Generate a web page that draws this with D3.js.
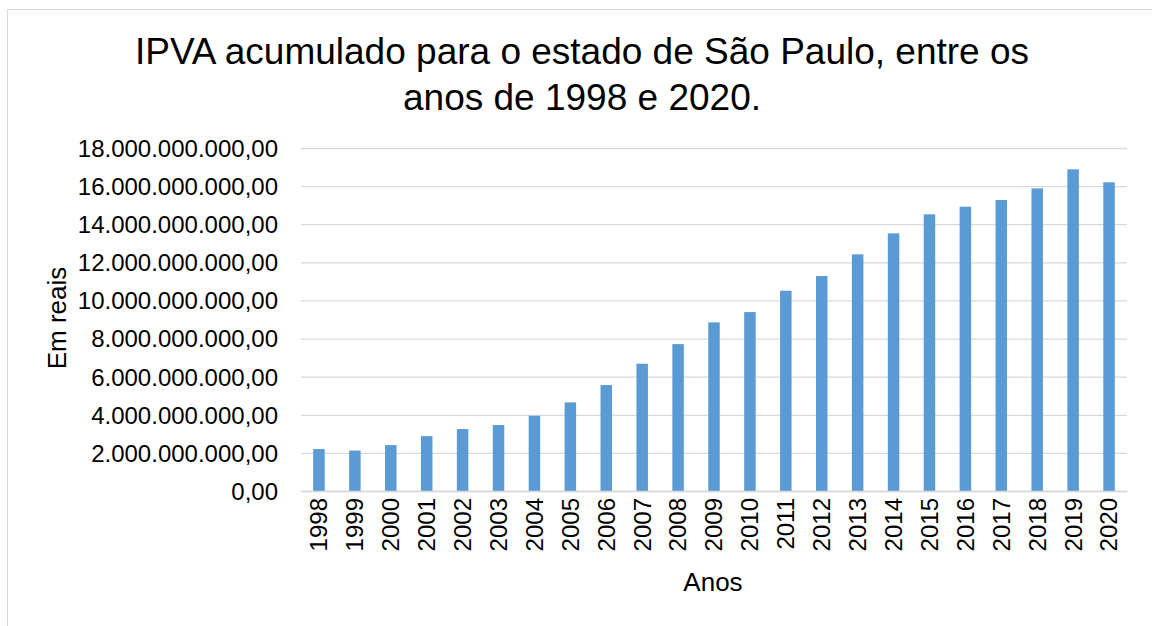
<!DOCTYPE html>
<html>
<head>
<meta charset="utf-8">
<script src="https://cdn.jsdelivr.net/npm/d3@7"></script>
<style>
  body { margin: 0; background: #fff; }
  svg text { font-family: "Liberation Sans", Arial, sans-serif; fill: #000; }
</style>
</head>
<body>
<div id="chart"></div>
<script>
// IPVA acumulado - Sao Paulo (em reais)
var anos = ["1998", "1999", "2000", "2001", "2002", "2003", "2004", "2005", "2006", "2007", "2008", "2009",
  "2010", "2011", "2012", "2013", "2014", "2015", "2016", "2017", "2018", "2019", "2020"];
var valores = [2200000000, 2120000000, 2410000000, 2880000000, 3250000000, 3460000000, 3950000000,
  4650000000, 5560000000, 6680000000, 7710000000, 8850000000, 9390000000, 10510000000, 11280000000,
  12420000000, 13520000000, 14520000000, 14920000000, 15270000000, 15880000000, 16880000000, 16200000000];
var yTicks = [0, 2e9, 4e9, 6e9, 8e9, 10e9, 12e9, 14e9, 16e9, 18e9];
var titulo = ["IPVA acumulado para o estado de São Paulo, entre os", "anos de 1998 e 2020."];

var width = 1152;
var height = 626;
var plotLeft = 301, plotRight = 1127, plotTop = 148, plotBottom = 491;

var svg = d3.select("#chart").
  append("svg").
  attr("width", width).
  attr("height", height);

// borda da area do grafico
svg.append("rect").
  attr("x", 7.5).
  attr("y", 9.5).
  attr("width", 1160).
  attr("height", 700).
  attr("fill", "none").
  attr("stroke", "#d9d9d9").
  attr("stroke-width", 1);

var br = d3.formatLocale({decimal: ",", thousands: ".", grouping: [3], currency: ["R$", ""]});
var fmt = br.format(",.2f");

var xScale = d3.scaleBand().
  domain(anos).
  range([plotLeft, plotRight]).
  paddingInner(0.68).
  paddingOuter(0.34);

var yScale = d3.scaleLinear().
  domain([0, 18e9]).
  range([plotBottom, plotTop]);

// linhas de grade
var yAxis = d3.axisLeft(yScale).
  tickValues(yTicks).
  tickSize(-(plotRight - plotLeft)).
  tickPadding(23).
  tickFormat(fmt);

var gy = svg.append("g").
  attr("transform", "translate(" + plotLeft + ",0)").
  call(yAxis);
gy.select(".domain").remove();
gy.selectAll(".tick line").
  attr("stroke", "#d9d9d9").
  attr("stroke-width", 1.3);
gy.selectAll(".tick text").
  style("font-size", "24px").
  attr("dy", "0.35em");

// barras
svg.selectAll("rect.bar").
  data(valores).
  enter().
  append("rect").
  attr("class", "bar").
  attr("x", function (d, i) { return xScale(anos[i]); }).
  attr("y", function (d) { return yScale(d); }).
  attr("width", xScale.bandwidth()).
  attr("height", function (d) { return plotBottom - yScale(d); }).
  attr("fill", "#5b9bd5");

// eixo x
var xAxis = d3.axisBottom(xScale).tickSize(0).tickPadding(0);
var gx = svg.append("g").
  attr("transform", "translate(0," + plotBottom + ")").
  call(xAxis);
gx.select(".domain").attr("stroke", "#d9d9d9").attr("stroke-width", 1.3);
gx.selectAll(".tick text").
  style("font-size", "24px").
  attr("text-anchor", "end").
  attr("transform", "rotate(-90)").
  attr("x", -7).
  attr("y", 0).
  attr("dy", "0.35em");

// titulo
svg.append("text").
  attr("x", 582).
  attr("y", 63.5).
  attr("text-anchor", "middle").
  style("font-size", "37px").
  text(titulo[0]);

svg.append("text").
  attr("x", 582).
  attr("y", 110).
  attr("text-anchor", "middle").
  style("font-size", "37px").
  text(titulo[1]);

// titulos dos eixos
svg.append("text").
  attr("transform", "translate(66,318) rotate(-90)").
  attr("text-anchor", "middle").
  style("font-size", "26px").
  text("Em reais");

svg.append("text").
  attr("x", 713).
  attr("y", 591).
  attr("text-anchor", "middle").
  style("font-size", "26px").
  text("Anos");
</script>
</body>
</html>
